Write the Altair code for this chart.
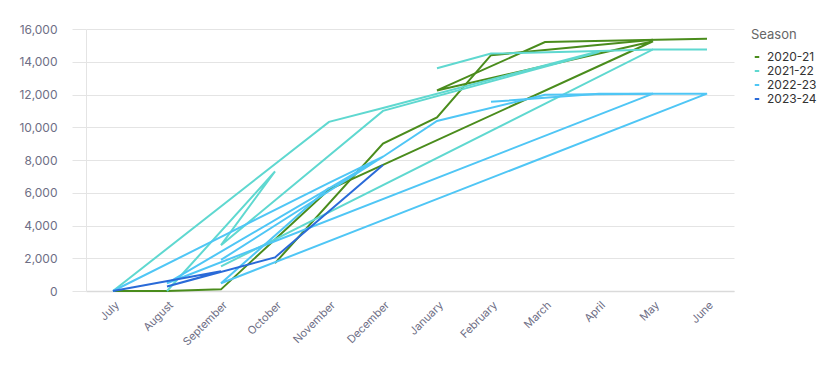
import altair as alt
import pandas as pd

months = ["July", "August", "September", "October", "November", "December",
          "January", "February", "March", "April", "May", "June"]
seasons = ["2020-21", "2021-22", "2022-23", "2023-24"]
colors = ["#4a8c1c", "#5fd8d0", "#4fc6f5", "#2a6ad8"]

# 2020-21 (two drawn runs)
g_month = ["July", "August", "September", "November", "December", "May", "January", "March", "June",
           "October", "December", "January", "February", "May"]
g_value = [0, 0, 100, 6200, 7700, 15250, 12250, 15200, 15400,
           1700, 9000, 10600, 14400, 15350]
g_run = [0] * 9 + [1] * 5

# 2021-22
t_month = ["July", "November", "December", "April",
           "August", "October", "September", "December", "April",
           "September", "May", "June",
           "January", "February", "April", "May"]
t_value = [0, 10330, 11170, 14650,
           0, 7300, 2800, 11000, 14600,
           1500, 14750, 14750,
           13600, 14500, 14650, 14750]
t_run = [0] * 4 + [1] * 5 + [2] * 3 + [3] * 4

# 2022-23
s_month = ["July", "November", "December", "January", "March", "May", "August", "December", "September",
           "February", "April", "June", "September", "November"]
s_value = [0, 6600, 8200, 10380, 11980, 12050, 470, 8200, 1900,
           11550, 12050, 12050, 470, 6300]
s_run = [0] * 9 + [1] * 5

# 2023-24
b_month = ["July", "September", "August", "October", "December"]
b_value = [0, 1200, 280, 2050, 7700]
b_run = [0] * 5

rows = []
for season, ms, vs, rs in [
    ("2020-21", g_month, g_value, g_run),
    ("2021-22", t_month, t_value, t_run),
    ("2022-23", s_month, s_value, s_run),
    ("2023-24", b_month, b_value, b_run),
]:
    for i, (m, v, r) in enumerate(zip(ms, vs, rs)):
        rows.append({"season": season, "month": m, "value": v,
                     "path": f"{season}-{r}", "idx": i})
df = pd.DataFrame(rows)

label_color = "#6e6e85"
grid_color = "#e4e4e4"

chart = alt.Chart(df).mark_line(strokeWidth=2).encode(
    x=alt.X("month:N", sort=months, title=None,
            axis=alt.Axis(labelAngle=-45, ticks=False, labelColor=label_color,
                          labelFontSize=11, labelPadding=8, domainColor="#dadada",
                          domainWidth=1.5, grid=False)),
    y=alt.Y("value:Q", title=None,
            scale=alt.Scale(domain=[0, 16000], nice=False),
            axis=alt.Axis(values=list(range(0, 16001, 2000)), format=",.0f",
                          labelColor=label_color, labelFontSize=12,
                          tickSize=14, tickColor=grid_color, labelPadding=15,
                          domainColor=grid_color, gridColor=grid_color)),
    color=alt.Color("season:N", scale=alt.Scale(domain=seasons, range=colors),
                    legend=alt.Legend(title="Season", symbolType="stroke",
                                      symbolSize=20, symbolStrokeWidth=2,
                                      labelFontSize=12, labelColor="#333333",
                                      titleFontSize=13, titleColor="#666666",
                                      titleFontWeight="normal", titlePadding=9,
                                      offset=17)),
    detail="path:N",
    order="idx:Q",
).properties(
    width=648, height=262,
    padding={"left": 10, "top": 15, "right": 5, "bottom": 5},
).configure(
    font="Inter",
).configure_view(
    stroke=None,
)

chart.save("out.html", embed_options={"renderer": "svg", "actions": False})
